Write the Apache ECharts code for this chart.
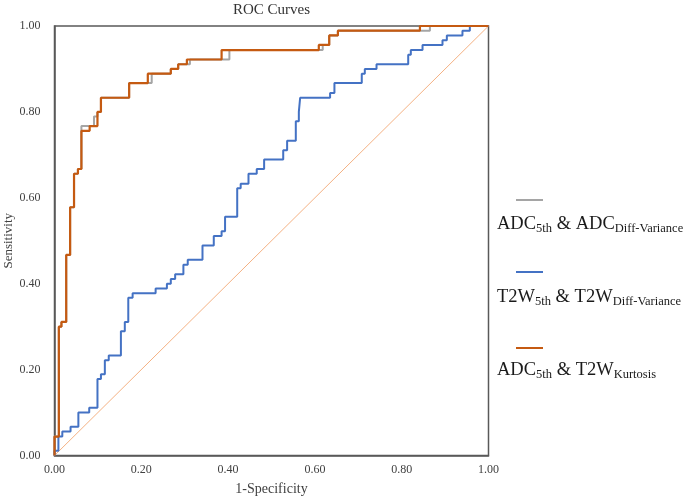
<!DOCTYPE html>
<html><head><meta charset="utf-8">
<script src="https://cdn.jsdelivr.net/npm/echarts@6/dist/echarts.min.js"></script>
<style>html,body{margin:0;padding:0;background:#fff}#c{width:685px;height:499px}</style>
</head><body><div id="c"></div>
<script>
// ---- data (1-Specificity, Sensitivity), step turns at next x ----
const seriesNames = ['ADC_5th & ADC_Diff-Variance', 'T2W_5th & T2W_Diff-Variance', 'ADC_5th & T2W_Kurtosis'];
const grayPts = [[0,0],[0,0.044],[0.010,0.300],[0.016,0.311],[0.027,0.467],[0.036,0.578],[0.045,0.656],[0.054,0.667],[0.062,0.767],[0.091,0.789],[0.099,0.800],[0.107,0.833],[0.172,0.867],[0.224,0.889],[0.268,0.900],[0.285,0.911],[0.312,0.922],[0.403,0.944],[0.618,0.956],[0.633,0.978],[0.653,0.989],[0.865,1.0],[1,1]];
const bluePts = [[0,0],[0,0.011],[0.009,0.044],[0.018,0.056],[0.037,0.067],[0.055,0.100],[0.080,0.111],[0.099,0.178],[0.107,0.189],[0.116,0.222],[0.125,0.233],[0.153,0.289],[0.162,0.311],[0.170,0.367],[0.180,0.378],[0.233,0.389],[0.259,0.400],[0.268,0.411],[0.278,0.422],[0.297,0.444],[0.307,0.456],[0.341,0.489],[0.367,0.511],[0.385,0.522],[0.393,0.556],[0.421,0.622],[0.429,0.633],[0.447,0.656],[0.466,0.667],[0.483,0.689],[0.527,0.711],[0.536,0.733],[0.556,0.778],[0.563,0.800],[0.566,0.833],[0.635,0.844],[0.645,0.867],[0.708,0.889],[0.715,0.900],[0.742,0.911],[0.815,0.933],[0.821,0.944],[0.848,0.956],[0.894,0.967],[0.904,0.978],[0.940,0.989],[0.957,1.0],[1,1]];
const brownPts = [[0,0],[0,0.044],[0.010,0.300],[0.016,0.311],[0.027,0.467],[0.036,0.578],[0.045,0.656],[0.054,0.667],[0.062,0.756],[0.081,0.767],[0.099,0.800],[0.107,0.833],[0.172,0.867],[0.215,0.889],[0.268,0.900],[0.285,0.911],[0.305,0.922],[0.385,0.944],[0.609,0.956],[0.633,0.978],[0.653,0.989],[0.842,1.0],[1,1]];
const diagonalPts = [[0,0],[1,1]];
const axisTicks = [0, 0.2, 0.4, 0.6, 0.8, 1.0];

const colors = ['#A5A5A5', '#4472C4', '#C55A11'];
const serif = '"Liberation Serif", "Times New Roman", serif';
const titleText = 'ROC Curves';
const cv = document.createElement('canvas').getContext('2d');
cv.font = '15px "Liberation Serif"';
const titleW = cv.measureText(titleText).width;

const legendRich = {
  m: {fontFamily: serif, fontSize: 18.5, color: '#1a1a1a', lineHeight: 22},
  s: {fontFamily: serif, fontSize: 12.5, color: '#1a1a1a', lineHeight: 7, verticalAlign: 'bottom'}
};
function legendLabel(name) {
  const parts = name.split(' & ');
  const tok = p => { const i = p.indexOf('_'); return [p.slice(0, i), p.slice(i + 1)]; };
  const a = tok(parts[0]), b = tok(parts[1]);
  return '{m|' + a[0] + '}{s|' + a[1] + '}{m| & ' + b[0] + '}{s|' + b[1] + '}';
}
const lineTops = [200, 272, 348];
const textTops = [215, 288, 361];
const legends = [];
seriesNames.forEach((n, i) => {
  legends.push({data: [n], left: 516, top: lineTops[i] - 1, padding: 0, icon: 'rect', itemWidth: 27, itemHeight: 2,
    selectedMode: false, formatter: () => '', textStyle: {fontSize: 1, lineHeight: 2}});
  legends.push({data: [n], left: 492, top: textTops[i], padding: 0, icon: 'rect', itemWidth: 0, itemHeight: 0,
    selectedMode: false, formatter: legendLabel, textStyle: {rich: legendRich}});
});

const chart = echarts.init(document.getElementById('c'));
const axisCommon = {
  type: 'value', min: 0, max: 1, interval: 0.2,
  axisTick: {show: false}, splitLine: {show: false},
  axisLine: {show: true, lineStyle: {color: '#595959', width: 1.5}},
  nameLocation: 'middle', nameMoveOverlap: false,
  nameTextStyle: {fontFamily: serif, fontSize: 14, color: '#404040'}
};
chart.setOption({
  animation: false,
  title: {text: titleText, left: 271.5 - titleW / 2, top: 3, padding: 0,
    textStyle: {fontFamily: serif, fontSize: 15, fontWeight: 'normal', color: '#333'}},
  legend: legends,
  grid: {left: 54.5, right: 196.5, top: 26, bottom: 43.5, show: true, borderColor: '#595959', borderWidth: 1.5, outerBoundsMode: 'none'},
  xAxis: Object.assign({}, axisCommon, {name: '1-Specificity', nameGap: 27,
    axisLabel: {formatter: v => v.toFixed(2), fontFamily: serif, fontSize: 12, color: '#404040', margin: 8,
      customValues: axisTicks}}),
  yAxis: Object.assign({}, axisCommon, {name: 'Sensitivity', nameGap: 39, nameTextStyle: {fontFamily: serif, fontSize: 13, color: '#404040'},
    axisLabel: {formatter: v => v.toFixed(2), fontFamily: serif, fontSize: 12, color: '#404040', margin: 14}}),
  series: [
    {name: 'ref', type: 'line', data: diagonalPts, symbol: 'none', silent: true, z: 1,
      lineStyle: {color: '#F4B183', width: 1}, itemStyle: {color: '#F4B183'}},
    {name: seriesNames[0], type: 'line', step: 'end', data: grayPts, symbol: 'none', clip: false, z: 2,
      lineStyle: {color: colors[0], width: 2}, itemStyle: {color: colors[0]}},
    {name: seriesNames[1], type: 'line', step: 'end', data: bluePts, symbol: 'none', clip: false, z: 3,
      lineStyle: {color: colors[1], width: 2}, itemStyle: {color: colors[1]}},
    {name: seriesNames[2], type: 'line', step: 'end', data: brownPts, symbol: 'none', clip: false, z: 4,
      lineStyle: {color: colors[2], width: 2.2}, itemStyle: {color: colors[2]}}
  ]
});
</script></body></html>
